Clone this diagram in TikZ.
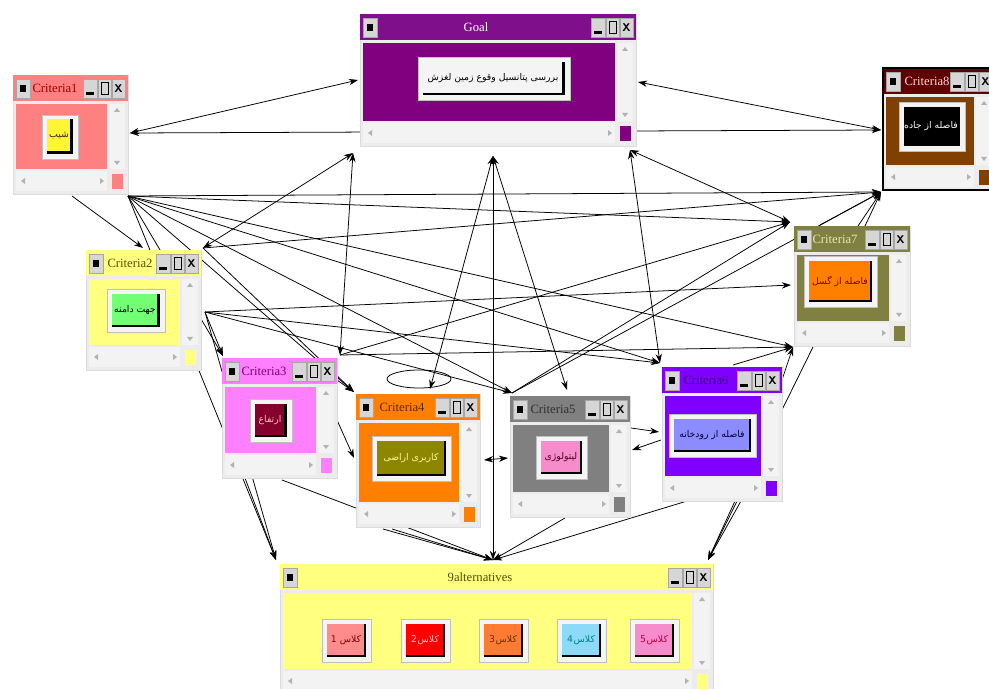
\documentclass[tikz,border=0pt]{standalone}
\usepackage{fontspec}
\setmainfont{Liberation Serif}
\newfontfamily\arabicfont[Script=Arabic]{DejaVu Sans}
\TeXXeTstate=1
\usetikzlibrary{arrows.meta,fit}

% window colours: title bar, body, title text
\definecolor{goalttl}{HTML}{7F0F8A}\definecolor{goalbody}{HTML}{800080}\definecolor{goaltt}{HTML}{FFFFFF}
\definecolor{c1ttl}{HTML}{FF8080}\definecolor{c1body}{HTML}{FF8080}\definecolor{c1tt}{HTML}{A00000}
\definecolor{c2ttl}{HTML}{FFFF80}\definecolor{c2body}{HTML}{FFFF80}\definecolor{c2tt}{HTML}{605000}
\definecolor{c3ttl}{HTML}{FF80FF}\definecolor{c3body}{HTML}{FF80FF}\definecolor{c3tt}{HTML}{800080}
\definecolor{c4ttl}{HTML}{FF8000}\definecolor{c4body}{HTML}{FF8000}\definecolor{c4tt}{HTML}{5A2A00}
\definecolor{c5ttl}{HTML}{808080}\definecolor{c5body}{HTML}{808080}\definecolor{c5tt}{HTML}{303030}
\definecolor{c6ttl}{HTML}{8000FF}\definecolor{c6body}{HTML}{8000FF}\definecolor{c6tt}{HTML}{3A0080}
\definecolor{c7ttl}{HTML}{808040}\definecolor{c7body}{HTML}{808040}\definecolor{c7tt}{HTML}{E8E8B0}
\definecolor{c8ttl}{HTML}{600000}\definecolor{c8body}{HTML}{804000}\definecolor{c8tt}{HTML}{FFD8D8}
\definecolor{altttl}{HTML}{FFFF80}\definecolor{altbody}{HTML}{FFFF80}\definecolor{alttt}{HTML}{505000}
\definecolor{winface}{HTML}{ECECEC}
\definecolor{winedge}{HTML}{DCDCDC}
\definecolor{scrface}{HTML}{F3F3F3}
\definecolor{btngray}{HTML}{D6D6D6}
\definecolor{frameface}{HTML}{F4F4F4}

\def\pxu{0.025cm}

% window: name, x, y, w, h, title, title centre
\newcommand\mkwin[7]{%
  \begin{scope}[shift={(#2,#3)}]
    \fill[winbg] (0,0) rectangle (#4,#5);
    \fill[#1ttl] (0,0) rectangle (#4,26);
    \fill[tbtn] (3,4) rectangle (17,23);
    \fill (7,10) rectangle (13,17);
    \fill[tbtn] (#4-45,4) rectangle (#4-31,23);
    \fill[tbtn] (#4-30,4) rectangle (#4-17,23);
    \fill[tbtn] (#4-16,4) rectangle (#4-3,23);
    \fill (#4-42,17) rectangle (#4-34,20);
    \draw[line width=0.7pt] (#4-27,7) rectangle (#4-20,19);
    \node[font=\sffamily\bfseries\fontsize{8}{8}\selectfont, inner sep=0pt] at (#4-9.5,13.5) {X};
    \node[wintitle, text=#1tt] at (#7,13.5) {#6};
    \fill[#1body] (3,29) rectangle (#4-21,#5-25);
    \fill[scrl] (#4-19,29) rectangle (#4-3,#5-25);
    \fill[scrl] (3,#5-23) rectangle (#4-21,#5-3);
    \fill[#1body] (#4-16,#5-20) rectangle (#4-5,#5-5);
    \fill[scrarr] (#4-14,37) -- (#4-8,37) -- (#4-11,33) -- cycle;
    \fill[scrarr] (#4-14,#5-33) -- (#4-8,#5-33) -- (#4-11,#5-29) -- cycle;
    \fill[scrarr] (12,#5-16) -- (12,#5-10) -- (8,#5-13) -- cycle;
    \fill[scrarr] (#4-28,#5-16) -- (#4-28,#5-10) -- (#4-24,#5-13) -- cycle;
  \end{scope}
  \node[fit={(#2,#3) (#2+#4,#3+#5)}, inner sep=0pt, outer sep=0pt] (#1) {};
}

% button: name, cx, cy, w, h, face, text colour, text
\newcommand\mkbtn[8]{%
  \node[btnframe, minimum width=#4*\pxu, minimum height=#5*\pxu] (#1) at (#2,#3) {};
  \node[btnface, fill=#6, text=#7, minimum width=(#4-11)*\pxu, minimum height=(#5-11)*\pxu] (#1f) at (#2-1,#3-1) {#8};
  \draw[btnshadow] (#1f.south west) -- (#1f.south east) -- (#1f.north east);
}

\begin{document}
\begin{tikzpicture}[x=0.025cm, y=-0.025cm,
    arr/.style={->, line width=0.55pt, >={Stealth[length=6.5pt,width=4.5pt]}},
    barr/.style={arr, <->},
    winbg/.style={fill=winface, draw=winedge, line width=0.4pt},
    tbtn/.style={fill=btngray, draw=gray!70, line width=0.3pt},
    scrl/.style={fill=scrface},
    scrarr/.style={fill=gray!60},
    wintitle/.style={font=\fontsize{9}{10}\selectfont, inner sep=0pt},
    btnframe/.style={fill=frameface, draw=gray!50, line width=0.3pt, inner sep=0pt, outer sep=0pt},
    btnface/.style={inner sep=0pt, outer sep=0pt, font=\fontsize{6.6}{8}\arabicfont},
    btnshadow/.style={line width=2pt, black}
]
\useasboundingbox (0,0) rectangle (989,689);
\fill[white] (0,0) rectangle (989,689);

% link ends
\coordinate (gL) at (358,80);
\coordinate (gR) at (638,82);
\coordinate (gB1) at (353,153);
\coordinate (gB2) at (493,156);
\coordinate (gB3) at (630,150);
\coordinate (c1E) at (130,133);
\coordinate (c1H) at (128,196);
\coordinate (c1B) at (72,196);
\coordinate (c2T) at (143,248);
\coordinate (c2TR) at (203,248);
\coordinate (c2H) at (205,312);
\coordinate (c3TL) at (223,356);
\coordinate (c3TR) at (340,355);
\coordinate (c3R1) at (337,380);
\coordinate (c3R2) at (337,420);
\coordinate (c3BL) at (245,478);
\coordinate (c3BR) at (282,480);
\coordinate (c4TL) at (354,392);
\coordinate (c4T) at (430,389);
\coordinate (c4loop) at (419,379);
\coordinate (c4L) at (354,458);
\coordinate (c4R) at (484,460);
\coordinate (c4B1) at (383,529);
\coordinate (c4B2) at (392,529);
\coordinate (c5TL) at (512,393);
\coordinate (c5T) at (567,390);
\coordinate (c5L) at (508,458);
\coordinate (c5R1) at (631,428);
\coordinate (c5R2) at (632,450);
\coordinate (c5B) at (565,518);
\coordinate (c6TL) at (660,363);
\coordinate (c6T) at (733,365);
\coordinate (c6TR) at (781,383);
\coordinate (c6L1) at (659,432);
\coordinate (c6L2) at (661,440);
\coordinate (c6BL) at (697,498);
\coordinate (c6B1) at (735,501);
\coordinate (c6B2) at (741,501);
\coordinate (c7TL) at (790,222);
\coordinate (c7TL2) at (820,225);
\coordinate (c7T1) at (858,226);
\coordinate (c7T2) at (865,226);
\coordinate (c7L) at (791,285);
\coordinate (c7BL) at (793,347);
\coordinate (c7B) at (813,347);
\coordinate (c8W) at (881,130);
\coordinate (c8BL) at (881,192);
\coordinate (aT) at (493,560);
\coordinate (aTL) at (276,560);
\coordinate (aTR) at (708,560);

% links both ways
\foreach \a/\b in {gL/c1E, gR/c8W, gB1/c2TR, gB1/c3TR, gB2/c4T, gB2/c5T, gB2/aT,
    gB3/c6TL, gB3/c7TL, c1E/c8W, c4R/c5L}
  \draw[barr] (\a) -- (\b);

% links one way
\foreach \a/\b in {c1B/c2T, c1H/aTL, c1H/c3TL, c1H/c4TL, c1H/c5TL, c1H/c6TL, c1H/c7BL,
    c1H/c7TL, c1H/c8BL, c2TR/c8BL, c2TR/c4TL, c2H/c3TL, c2H/c5TL, c2H/c6TL, c2H/c7L,
    c2H/aTL, c3TR/c7TL, c3TR/c7BL, c3R1/c4TL, c3R2/c4L, c3BL/aTL, c3BR/aT,
    c4B1/aT, c4B2/aT, c5TL/c7TL, c5TL/c8BL, c5R1/c6L1, c6L2/c5R2, c5B/aT,
    c6T/c7BL, c6TR/c7BL, c6BL/aT, c6B1/aTR, c6B2/aTR,
    c7TL2/c8BL, c7T1/c8BL, c7T2/c8BL, c7B/aTR}
  \draw[arr] (\a) -- (\b);

% inner dependence of Criteria4
\draw[line width=0.55pt] (c4loop) ellipse [x radius=32, y radius=9];

% windows
\mkwin{goal}{360}{14}{276}{132}{Goal}{116}
\mkwin{c1}{13}{75}{115}{119}{Criteria1}{42}
\mkwin{c2}{86}{250}{115}{120}{Criteria2}{44}
\mkwin{c3}{222}{358}{115}{120}{Criteria3}{42}
\mkwin{c4}{356}{394}{124}{133}{Criteria4}{46}
\mkwin{c5}{510}{396}{120}{121}{Criteria5}{43}
\mkwin{c6}{662}{367}{120}{134}{Criteria6}{44}
\mkwin{c7}{794}{226}{116}{120}{Criteria7}{41}
\mkwin{c8}{883}{68}{112}{122}{Criteria8}{44}
\draw[line width=0.9pt] (c8.south east) -| (c8.north west) -- (c8.north east);
\mkwin{alt}{280}{564}{433}{130}{9alternatives}{200}

% buttons
\mkbtn{bgoal}{494}{79}{152}{43}{frameface}{black}{\beginR بررسی پتانسیل وقوع زمین لغزش\endR}
\mkbtn{b1}{60}{137}{36}{44}{yellow!80!white}{black!70!brown}{\beginR شیب\endR}
\mkbtn{b2}{136}{311}{58}{43}{green!55!white}{black}{\beginR جهت دامنه\endR}
\mkbtn{b3}{271}{421}{42}{43}{purple!70!black}{pink}{\beginR ارتفاع\endR}
\mkbtn{b4}{412}{459}{79}{45}{olive}{yellow!40!white}{\beginR کاربری اراضی\endR}
\mkbtn{b5}{562}{458}{51}{43}{magenta!45!white}{black!60!purple}{\beginR لیتولوژی\endR}
\mkbtn{b6}{713}{436}{87}{43}{blue!45!white}{black!80!blue}{\beginR فاصله از رودخانه\endR}
\mkbtn{b7}{841}{282}{73}{51}{orange}{black!50!red}{\beginR فاصله از گسل\endR}
\mkbtn{b8}{932}{127}{66}{49}{black}{white}{\beginR فاصله از جاده\endR}
\mkbtn{a1}{347}{641}{49}{43}{red!45!white}{black!50!red}{\beginR کلاس 1\endR}
\mkbtn{a2}{426}{641}{49}{43}{red}{pink}{\beginR کلاس\kern0.5pt 2\endR}
\mkbtn{a3}{504}{641}{49}{43}{orange!70!red!80!white}{black!60!orange}{\beginR کلاس\kern0.5pt 3\endR}
\mkbtn{a4}{582}{641}{49}{43}{cyan!45!white}{teal}{\beginR کلاس\kern0.5pt 4\endR}
\mkbtn{a5}{655}{641}{49}{43}{magenta!45!white}{purple}{\beginR کلاس\kern0.5pt 5\endR}
\end{tikzpicture}
\end{document}
